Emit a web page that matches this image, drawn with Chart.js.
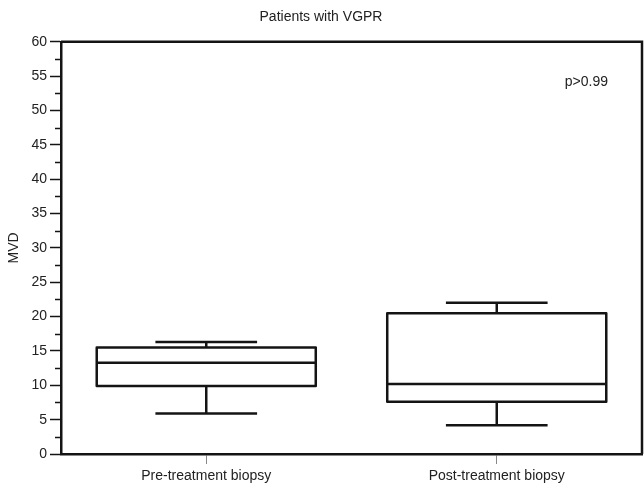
<!DOCTYPE html>
<html>
<head>
<meta charset="utf-8">
<script src="https://cdn.jsdelivr.net/npm/chart.js@4/dist/chart.umd.min.js"></script>
<style>
  html, body { margin: 0; padding: 0; background: #fff; }
  #wrap { width: 644px; height: 486px; }
</style>
</head>
<body>
<div id="wrap"><canvas id="c" width="644" height="486"></canvas></div>
<script>
// Box-plot summaries for microvessel density (MVD)
const categories = ['Pre-treatment biopsy', 'Post-treatment biopsy'];
const whiskerMin = [5.9, 4.2];
const quartile1  = [9.9, 7.6];
const medians    = [13.3, 10.2];
const quartile3  = [15.5, 20.5];
const whiskerMax = [16.3, 22.0];
const yTicks = [0, 5, 10, 15, 20, 25, 30, 35, 40, 45, 50, 55, 60];
const pValueText = 'p>0.99';

const INK = '#141414';
const TEXT = '#222';
const FONT = '"Liberation Sans", Arial, Helvetica, sans-serif';

// Box outlines, whiskers, caps, medians, minor ticks, frame and p-value label
const boxExtras = {
  id: 'boxExtras',
  afterDatasetsDraw(chart) {
    const ctx = chart.ctx;
    const y = chart.scales.y;
    const x = chart.scales.x;
    const meta = chart.getDatasetMeta(0);
    const catW = x.width / categories.length;
    const capHalf = catW * 0.175;
    ctx.save();
    ctx.strokeStyle = INK;
    ctx.lineWidth = 2.5;
    ctx.lineCap = 'butt';
    ctx.lineJoin = 'round';
    meta.data.forEach((bar, i) => {
      const cx = bar.x;
      const half = bar.width / 2;
      const yMed = y.getPixelForValue(medians[i]);
      const yQ1 = y.getPixelForValue(quartile1[i]);
      const yQ3 = y.getPixelForValue(quartile3[i]);
      const yMin = y.getPixelForValue(whiskerMin[i]);
      const yMax = y.getPixelForValue(whiskerMax[i]);
      ctx.beginPath();
      // box
      ctx.rect(cx - half, yQ3, half * 2, yQ1 - yQ3);
      // median
      ctx.moveTo(cx - half, yMed); ctx.lineTo(cx + half, yMed);
      // upper whisker + cap
      ctx.moveTo(cx, yQ3); ctx.lineTo(cx, yMax);
      ctx.moveTo(cx - capHalf, yMax); ctx.lineTo(cx + capHalf, yMax);
      // lower whisker + cap
      ctx.moveTo(cx, yQ1); ctx.lineTo(cx, yMin);
      ctx.moveTo(cx - capHalf, yMin); ctx.lineTo(cx + capHalf, yMin);
      ctx.stroke();
    });
    ctx.restore();
  },
  afterDraw(chart) {
    const ctx = chart.ctx;
    const a = chart.chartArea;
    const y = chart.scales.y;
    ctx.save();
    // minor ticks on the value axis
    ctx.strokeStyle = INK;
    ctx.lineWidth = 1.5;
    ctx.beginPath();
    for (let v = 2.5; v < 60; v += 5) {
      const py = Math.round(y.getPixelForValue(v)) + 0.5;
      ctx.moveTo(a.left - 6, py); ctx.lineTo(a.left, py);
    }
    ctx.stroke();
    // top and right frame
    ctx.lineWidth = 2.5;
    ctx.beginPath();
    ctx.moveTo(a.left, a.top); ctx.lineTo(a.right, a.top); ctx.lineTo(a.right, a.bottom);
    ctx.stroke();
    // p-value
    ctx.fillStyle = TEXT;
    ctx.font = '14px ' + FONT;
    ctx.textAlign = 'right';
    ctx.textBaseline = 'middle';
    ctx.fillText(pValueText, a.right - 34, y.getPixelForValue(54.1));
    ctx.restore();
  }
};

new Chart(document.getElementById('c'), {
  type: 'bar',
  data: {
    labels: categories,
    datasets: [{
      data: quartile1.map((q, i) => [q, quartile3[i]]),
      backgroundColor: '#ffffff',
      borderWidth: 0,
      barPercentage: 0.754,
      categoryPercentage: 1
    }]
  },
  options: {
    responsive: false,
    animation: false,
    devicePixelRatio: 1,
    layout: { padding: { left: 0, right: 2, top: 0, bottom: 0 } },
    plugins: {
      legend: { display: false },
      tooltip: { enabled: false },
      title: {
        display: true,
        text: 'Patients with VGPR',
        color: TEXT,
        font: { family: FONT, size: 14, weight: 'normal' },
        padding: { top: 9, bottom: 16 }
      }
    },
    scales: {
      x: {
        offset: true,
        grid: { display: true, offset: false, drawOnChartArea: false, tickLength: 10, tickColor: '#888', tickWidth: 1 },
        border: { display: true, color: INK, width: 2.5 },
        ticks: { color: TEXT, font: { family: FONT, size: 14 }, padding: 4 },
        afterFit(s) { s.height = 32; }
      },
      y: {
        min: 0,
        max: 60,
        afterBuildTicks(s) { s.ticks = yTicks.map(v => ({ value: v })); },
        grid: { display: true, drawOnChartArea: false, tickLength: 11, tickColor: INK, tickWidth: 1.5 },
        border: { display: true, color: INK, width: 2.5 },
        ticks: { color: TEXT, font: { family: FONT, size: 14 }, padding: 3 },
        title: { display: true, text: 'MVD', color: TEXT, font: { family: FONT, size: 14 }, padding: { top: 6, bottom: 4 } },
        afterFit(s) { s.width = 61; }
      }
    }
  },
  plugins: [boxExtras]
});
</script>
</body>
</html>
